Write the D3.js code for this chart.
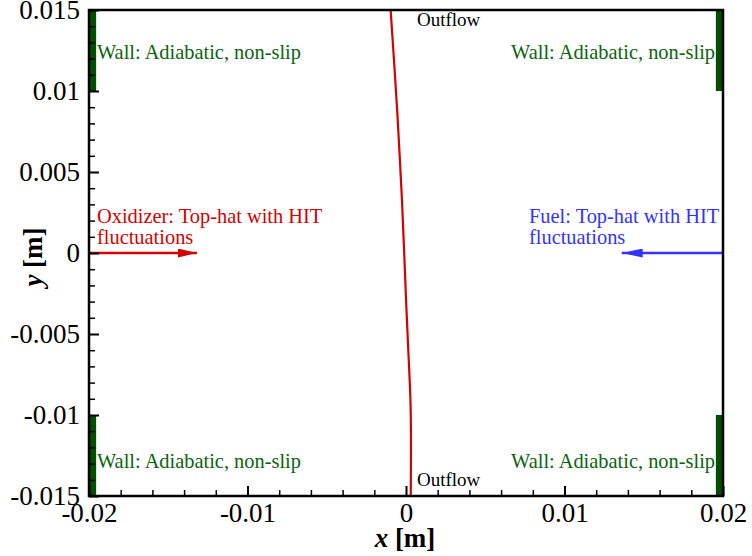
<!DOCTYPE html>
<html>
<head>
<meta charset="utf-8">
<script src="https://cdn.jsdelivr.net/npm/d3@7"></script>
<style>
  html, body { margin: 0; padding: 0; background: #fff; }
  svg { display: block; }
  text { font-family: "Liberation Serif", "Times New Roman", serif; }
</style>
</head>
<body>
<svg id="chart" width="752" height="556"></svg>
<script>
// Domain extents [m]
const xDomain = [-0.02, 0.02];
const yDomain = [-0.015, 0.015];

// Tick values
const xMajorTicks = [-0.02, -0.01, 0, 0.01, 0.02];
const xTickLabels = ["-0.02", "-0.01", "0", "0.01", "0.02"];
const yMajorTicks = [-0.015, -0.01, -0.005, 0, 0.005, 0.01, 0.015];
const yTickLabels = ["-0.015", "-0.01", "-0.005", "0", "0.005", "0.01", "0.015"];

// Stoichiometric interface (x, y) in metres
const interfaceX = [-0.00097, -0.00075, -0.00055, -0.00040, -0.00025, -0.00012, 0.00000, 0.00014, 0.00030, 0.00032, 0.00030];
const interfaceY = [0.015, 0.0118, 0.0088, 0.0060, 0.0033, 0.0002, -0.0029, -0.0060, -0.0091, -0.0115, -0.015];

// Wall segments: x position, y start, y end
const wallX = [-0.02, -0.02, 0.02, 0.02];
const wallY0 = [0.01, -0.015, 0.01, -0.015];
const wallY1 = [0.015, -0.01, 0.015, -0.01];
const wallThickness = 0.00045;

// Inlet arrows: start x, end x, y
const arrowStartX = [-0.02, 0.02];
const arrowEndX = [-0.01319, 0.01361];
const arrowY = [0, 0];

const margin = { left: 89, right: 752 - 723, top: 10, bottom: 556 - 496 };
const W = 752, H = 556;

const svg = d3.select("#chart");
const x = d3.scaleLinear().domain(xDomain).range([margin.left, W - margin.right]);
const y = d3.scaleLinear().domain(yDomain).range([H - margin.bottom, margin.top]);

const green = "#0b640b";
const wallGreen = "#004e00";
const red = "#d50000";
const blue = "#3333ff";

// Walls
const wallPx = Math.abs(x(wallThickness) - x(0));
svg.append("g").selectAll("rect")
  .data(wallX.map((wx, i) => ({ wx, y0: wallY0[i], y1: wallY1[i] })))
  .join("rect")
  .attr("x", d => d.wx < 0 ? x(d.wx) : x(d.wx) - wallPx)
  .attr("y", d => y(d.y1))
  .attr("width", wallPx)
  .attr("height", d => y(d.y0) - y(d.y1))
  .attr("fill", wallGreen);

// Arrow markers
const defs = svg.append("defs");
[["arrRed", red, 19, 4.5], ["arrBlue", blue, 21, 4.5]].forEach(([id, c, L, hw]) => {
  defs.append("marker")
    .attr("id", id)
    .attr("markerUnits", "userSpaceOnUse")
    .attr("viewBox", `0 ${-hw} ${L} ${2 * hw}`)
    .attr("refX", L).attr("refY", 0)
    .attr("markerWidth", L).attr("markerHeight", 2 * hw)
    .attr("orient", "auto")
    .append("path")
    .attr("d", `M0,${-hw}L${L},0L0,${hw}Z`)
    .attr("fill", c);
});

const arrowColors = [red, blue];
const arrowIds = ["arrRed", "arrBlue"];
arrowStartX.forEach((sx, i) => {
  svg.append("line")
    .attr("x1", x(sx)).attr("y1", y(arrowY[i]))
    .attr("x2", x(arrowEndX[i])).attr("y2", y(arrowY[i]))
    .attr("stroke", arrowColors[i])
    .attr("stroke-width", 2.5)
    .attr("marker-end", `url(#${arrowIds[i]})`);
});

// Interface line
const line = d3.line()
  .x(d => x(d[0])).y(d => y(d[1]))
  .curve(d3.curveBasis);
svg.append("path")
  .datum(interfaceX.map((v, i) => [v, interfaceY[i]]))
  .attr("d", line)
  .attr("fill", "none")
  .attr("stroke", red)
  .attr("stroke-width", 2.2);

// Axes (ticks point inward)
const xMinor = d3.range(-0.02, 0.0201, 0.002).filter(v => !xMajorTicks.some(m => Math.abs(m - v) < 1e-9));
const yMinor = d3.range(-0.015, 0.0151, 0.001).filter(v => !yMajorTicks.some(m => Math.abs(m - v) < 1e-9));

const xAxis = d3.axisBottom(x).tickValues(xMajorTicks)
  .tickSize(-10).tickPadding(12)
  .tickFormat((d, i) => xTickLabels[i]);
const gx = svg.append("g").attr("transform", `translate(0,${H - margin.bottom})`).call(xAxis);
gx.select(".domain").remove();
gx.selectAll(".tick line").attr("stroke", "#000").attr("stroke-width", 2);
gx.selectAll(".tick text").attr("font-size", 27).attr("fill", "#000")
  .attr("font-family", "Liberation Serif, serif").attr("dy", "0.71em").attr("y", 7);
const gxm = svg.append("g").attr("transform", `translate(0,${H - margin.bottom})`)
  .call(d3.axisBottom(x).tickValues(xMinor).tickSize(-6).tickFormat(""));
gxm.select(".domain").remove();
gxm.selectAll(".tick line").attr("stroke", "#000").attr("stroke-width", 1.5);

const yAxis = d3.axisLeft(y).tickValues(yMajorTicks)
  .tickSize(-10).tickPadding(9)
  .tickFormat((d, i) => yTickLabels[i]);
const gy = svg.append("g").attr("transform", `translate(${margin.left},0)`).call(yAxis);
gy.select(".domain").remove();
gy.selectAll(".tick line").attr("stroke", "#000").attr("stroke-width", 2);
gy.selectAll(".tick text").attr("font-size", 27).attr("fill", "#000")
  .attr("font-family", "Liberation Serif, serif").attr("x", -9);
const gym = svg.append("g").attr("transform", `translate(${margin.left},0)`)
  .call(d3.axisLeft(y).tickValues(yMinor).tickSize(-6).tickFormat(""));
gym.select(".domain").remove();
gym.selectAll(".tick line").attr("stroke", "#000").attr("stroke-width", 1.5);

// Frame
svg.append("rect")
  .attr("x", x(xDomain[0])).attr("y", y(yDomain[1]))
  .attr("width", x(xDomain[1]) - x(xDomain[0]))
  .attr("height", y(yDomain[0]) - y(yDomain[1]))
  .attr("fill", "none").attr("stroke", "#000").attr("stroke-width", 2.5);

// Boundary annotations
const fs = 20.4;
function label(tx, ty, str, color, anchor, size) {
  svg.append("text").attr("x", tx).attr("y", ty)
    .attr("font-size", size || fs).attr("fill", color)
    .attr("text-anchor", anchor || "start").text(str);
}
label(97, 59, "Wall: Adiabatic, non-slip", green);
label(715, 59, "Wall: Adiabatic, non-slip", green, "end");
label(97, 468, "Wall: Adiabatic, non-slip", green);
label(715, 468, "Wall: Adiabatic, non-slip", green, "end");
label(97, 223, "Oxidizer: Top-hat with HIT", red);
label(97, 244, "fluctuations", red);
label(529, 223, "Fuel: Top-hat with HIT", blue);
label(529, 244, "fluctuations", blue);
label(417, 26, "Outflow", "#000", "start", 19);
label(417, 486, "Outflow", "#000", "start", 19);

// Axis titles
const xt = svg.append("text").attr("x", 405).attr("y", 547)
  .attr("text-anchor", "middle").attr("font-size", 27).attr("font-weight", "bold");
xt.append("tspan").attr("font-style", "italic").text("x");
xt.append("tspan").text(" [m]");

const yt = svg.append("text")
  .attr("transform", `translate(42,257) rotate(-90)`)
  .attr("text-anchor", "middle").attr("font-size", 27).attr("font-weight", "bold");
yt.append("tspan").attr("font-style", "italic").text("y");
yt.append("tspan").text(" [m]");
</script>
</body>
</html>
